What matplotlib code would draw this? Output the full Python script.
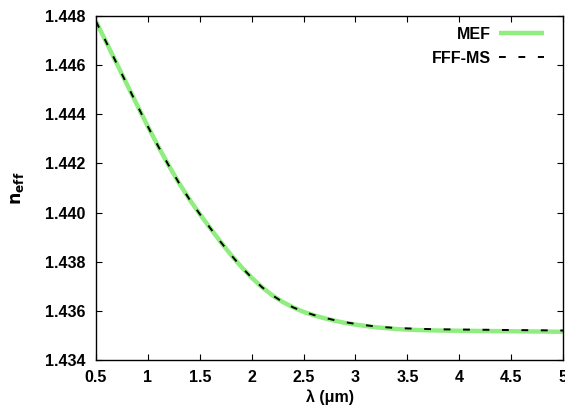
import matplotlib
matplotlib.use("Agg")
import matplotlib.pyplot as plt

wavelength = [0.5, 0.6, 0.7, 0.8, 0.9, 1.0, 1.1, 1.2, 1.3, 1.4, 1.5, 1.6, 1.7, 1.8, 1.9,
              2.0, 2.1, 2.2, 2.3, 2.4, 2.5, 2.6, 2.7, 2.8, 2.9, 3.0, 3.2, 3.4, 3.6, 3.8,
              4.0, 4.5, 5.0]
n_mef = [1.44778, 1.44692, 1.44606, 1.44520, 1.44434, 1.44350, 1.44269, 1.44192, 1.44120,
         1.44054, 1.43994, 1.43937, 1.43881, 1.43828, 1.43779, 1.43735, 1.43696, 1.43663,
         1.43636, 1.43614, 1.43596, 1.43582, 1.43570, 1.43560, 1.43551, 1.43544, 1.43533,
         1.43526, 1.43522, 1.43520, 1.43519, 1.43517, 1.43515]
n_fff = [1.44778, 1.44692, 1.44606, 1.44520, 1.44434, 1.44350, 1.44269, 1.44192, 1.44120,
         1.44054, 1.43994, 1.43937, 1.43881, 1.43828, 1.43779, 1.43735, 1.43696, 1.43663,
         1.43636, 1.43614, 1.43597, 1.43583, 1.43572, 1.43562, 1.43554, 1.43547, 1.43536,
         1.43530, 1.43527, 1.43525, 1.43524, 1.43522, 1.43520]

xticks = [0.5, 1, 1.5, 2, 2.5, 3, 3.5, 4, 4.5, 5]
xticklabels = ["0.5", "1", "1.5", "2", "2.5", "3", "3.5", "4", "4.5", "5"]
yticks = [1.434, 1.436, 1.438, 1.440, 1.442, 1.444, 1.446, 1.448]
yticklabels = ["1.434", "1.436", "1.438", "1.440", "1.442", "1.444", "1.446", "1.448"]

plt.rcParams['font.family'] = ['Liberation Sans', 'DejaVu Sans']
plt.rcParams['font.weight'] = 'bold'

fig = plt.figure(figsize=(5.65, 4.12), dpi=100)
ax = fig.add_axes([0.170, 0.1262, 0.8265, 0.8348])

ax.plot(wavelength, n_mef, color='#90EE80', lw=3.2, label='MEF', solid_capstyle='butt')
ax.plot(wavelength, n_fff, color='black', lw=1.4, dashes=(3.5, 6.5), label='FFF-MS')

ax.set_xlim(0.5, 5)
ax.set_ylim(1.434, 1.448)
ax.set_xticks(xticks)
ax.set_xticklabels(xticklabels, fontsize=11.5, fontweight='bold')
ax.set_yticks(yticks)
ax.set_yticklabels(yticklabels, fontsize=11.5, fontweight='bold')
ax.tick_params(direction='in', length=4, width=0.8, top=True, right=True, pad=7.5)
for s in ax.spines.values():
    s.set_linewidth(1.0)

ax.set_xlabel('λ (μm)', fontsize=11.5, fontweight='bold', labelpad=3)
ax.set_ylabel(r'$\mathbf{n_{eff}}$', fontsize=12.5, labelpad=14)

leg = ax.legend(loc='upper right', bbox_to_anchor=(0.9936, 1.015), frameon=False,
                markerfirst=False, handlelength=2.8, handletextpad=0.55,
                borderaxespad=0.6, labelspacing=0.55,
                prop={'weight': 'bold', 'size': 11.5})

fig.savefig('out.png', dpi=100)
